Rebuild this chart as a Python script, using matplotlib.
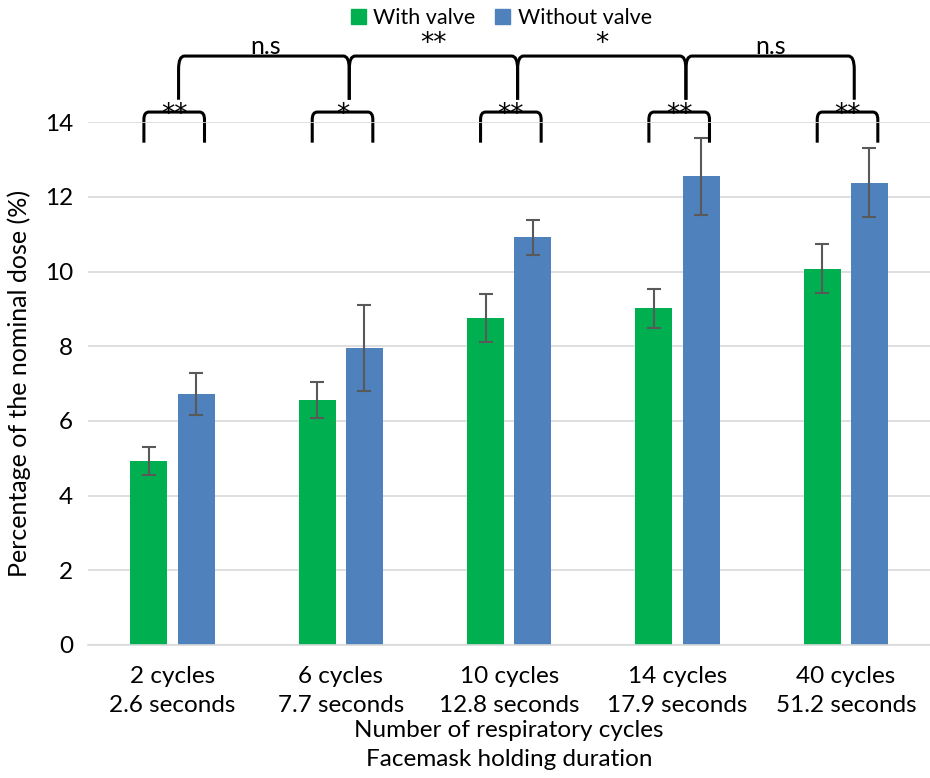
import numpy as np
import matplotlib
matplotlib.use("Agg")
from matplotlib import pyplot as plt
from matplotlib.path import Path
from matplotlib.patches import PathPatch, Patch

plt.rcParams['font.family'] = ['Lato', 'DejaVu Sans']

categories = ["2 cycles\n2.6 seconds", "6 cycles\n7.7 seconds", "10 cycles\n12.8 seconds",
              "14 cycles\n17.9 seconds", "40 cycles\n51.2 seconds"]
with_valve = [4.93, 6.56, 8.76, 9.02, 10.08]
with_valve_err = [0.37, 0.47, 0.64, 0.52, 0.65]
without_valve = [6.72, 7.95, 10.92, 12.55, 12.38]
without_valve_err = [0.55, 1.15, 0.47, 1.03, 0.92]

# significance between valve / no valve within each group
within_sig = ["**", "*", "**", "**", "**"]
# significance of "without valve" between neighbouring groups
between_sig = ["n.s", "**", "*", "n.s"]

green = "#00B050"
blue = "#4F81BD"
errc = "#595959"

fig = plt.figure(figsize=(9.3, 7.78), dpi=100)
ax = fig.add_axes([0.095, 0.171, 0.905, 0.672])

x = np.arange(len(categories))
w = 0.22
ax.bar(x - 0.14, with_valve, w, color=green, zorder=2)
ax.bar(x + 0.14, without_valve, w, color=blue, zorder=2)
ax.errorbar(x - 0.14, with_valve, yerr=with_valve_err, fmt='none', ecolor=errc,
            elinewidth=1.5, capsize=5, capthick=1.5, zorder=3)
ax.errorbar(x + 0.14, without_valve, yerr=without_valve_err, fmt='none', ecolor=errc,
            elinewidth=1.5, capsize=5, capthick=1.5, zorder=3)

ax.set_xlim(-0.5, len(categories) - 0.5)
ax.set_ylim(0, 14)
ax.set_yticks(range(0, 15, 2))
ax.set_xticks(x)
ax.set_xticklabels(categories, fontsize=17.5, linespacing=1.5)
ax.tick_params(axis='both', length=0, labelsize=17.5, colors='black')
ax.tick_params(axis='x', pad=15)
ax.tick_params(axis='y', pad=11)
ax.grid(axis='y', color='#D9D9D9', linewidth=1.2, zorder=0)
for s in ['top', 'right', 'left']:
    ax.spines[s].set_visible(False)
ax.spines['bottom'].set_color('#D9D9D9')
ax.spines['bottom'].set_linewidth(1.2)

ax.set_ylabel("Percentage of the nominal dose (%)", fontsize=18, labelpad=10)
ax.set_xlabel("Number of respiratory cycles\nFacemask holding duration", fontsize=17.5,
              linespacing=1.45, labelpad=3)


def bracket(x0, x1, y0, y1, rx=0.03, ry=0.2):
    verts = [(x0, y0), (x0, y1 - ry), (x0, y1), (x0 + rx, y1),
             (x1 - rx, y1), (x1, y1), (x1, y1 - ry), (x1, y0)]
    codes = [Path.MOVETO, Path.LINETO, Path.CURVE3, Path.CURVE3,
             Path.LINETO, Path.CURVE3, Path.CURVE3, Path.LINETO]
    ax.add_patch(PathPatch(Path(verts, codes), fill=False, lw=2.2, color='black',
                           clip_on=False, capstyle='butt'))


for i, s in enumerate(within_sig):
    bracket(i - 0.17, i + 0.19, 13.45, 14.27)
    ax.text(i + 0.01, 14.19, s, ha='center', va='center', fontsize=19,
            family='DejaVu Sans', clip_on=False)

for i, s in enumerate(between_sig):
    x0 = i + 0.05 if i > 0 else i + 0.036
    bracket(x0, i + 1.05, 14.6, 15.77, rx=0.035, ry=0.35)
    if '*' in s:
        ax.text(i + 0.55, 16.09, s, ha='center', va='center', fontsize=19,
                family='DejaVu Sans', clip_on=False)
    else:
        ax.text(i + 0.55, 15.72, s, ha='center', va='bottom', fontsize=18, clip_on=False)

handles = [Patch(color=green, label="With valve"), Patch(color=blue, label="Without valve")]
fig.legend(handles=handles, loc='center', bbox_to_anchor=(0.539, 0.977), ncol=2,
           frameon=False, fontsize=15.5, handlelength=0.7, handleheight=0.7,
           handletextpad=0.35, columnspacing=0.9)

fig.savefig("out.png", dpi=100)
